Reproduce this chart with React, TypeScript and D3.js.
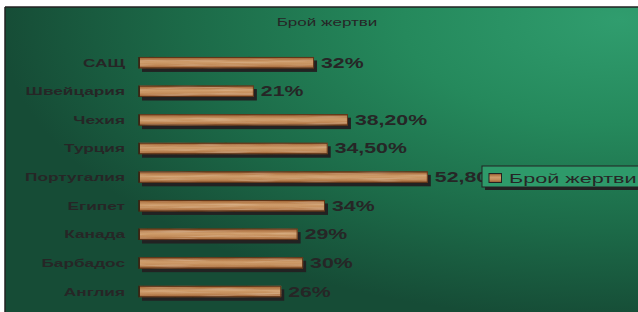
import React from "react";
import * as d3 from "d3";

const categories = ["САЩ", "Швейцария", "Чехия", "Турция", "Португалия", "Египет", "Канада", "Барбадос", "Англия"];
const values = [32, 21, 38.2, 34.5, 52.8, 34, 29, 30, 26];
const valueLabels = ["32%", "21%", "38,20%", "34,50%", "52,80%", "34%", "29%", "30%", "26%"];
const seriesName = "Брой жертви";
const title = "Брой жертви";

const W = 638;
const H = 312;

export default function App() {
  const x = d3.scaleLinear().domain([0, 60]).range([139, 139 + 60 * 5.47]);
  const y = d3.scaleBand<string>().domain(categories).range([39.8, 314.4]).paddingInner(0.6).paddingOuter(0.6);
  const bh = y.bandwidth();
  const textColor = "#262626";
  const sText = (tx: number, ty: number, anchor: string, content: string, size: number, weight: string, sx: number) => (
    <text
      transform={`translate(${tx},${ty}) scale(${sx},1)`}
      textAnchor={anchor}
      fontFamily="'Liberation Sans', Arial, sans-serif"
      fontSize={size}
      fontWeight={weight}
      fill={textColor}
    >
      {content}
    </text>
  );
  return (
    <svg width={W} height={H} style={{ position: "absolute", left: 0, top: 0 }}>
      <defs>
        <radialGradient id="bg" gradientUnits="userSpaceOnUse" cx={0} cy={0} r={1}
          gradientTransform="translate(620,20) scale(620,300)">
          <stop offset="0" stopColor="#309d6e" />
          <stop offset="0.35" stopColor="#25895c" />
          <stop offset="0.7" stopColor="#1c6a48" />
          <stop offset="1" stopColor="#164c36" />
        </radialGradient>
        <linearGradient id="wood" x1="0" y1="0" x2="0" y2="1">
          <stop offset="0" stopColor="#70401f" />
          <stop offset="0.14" stopColor="#ad7242" />
          <stop offset="0.42" stopColor="#cf9d6b" />
          <stop offset="0.7" stopColor="#c28b59" />
          <stop offset="0.88" stopColor="#a86e40" />
          <stop offset="1" stopColor="#663a1c" />
        </linearGradient>
        <filter id="grain" x="0" y="0" width="1" height="1">
          <feTurbulence type="fractalNoise" baseFrequency="0.02 0.45" numOctaves={2} seed={5} result="noise" />
          <feColorMatrix in="noise" type="matrix"
            values="0 0 0 0 0.88  0 0 0 0 0.68  0 0 0 0 0.46  0 0 0 0.8 -0.38" result="light" />
          <feComposite in="light" in2="SourceGraphic" operator="in" result="lightIn" />
          <feMerge>
            <feMergeNode in="SourceGraphic" />
            <feMergeNode in="lightIn" />
          </feMerge>
        </filter>
      </defs>
      <rect x={0} y={0} width={W} height={H} fill="#ffffff" />
      <rect x={5} y={7} width={W} height={H} fill="url(#bg)" />
      <line x1={5} y1={7} x2={W} y2={7} stroke="#222" strokeWidth={1.5} />
      <line x1={5} y1={7} x2={5} y2={H} stroke="#222" strokeWidth={1.5} />
      {sText(327, 26, "middle", title, 11, "normal", 1.55)}
      {categories.map((c, i) => {
        const yy = y(c)!;
        const x0 = x(0);
        const x1 = x(values[i]);
        return (
          <g key={c}>
            <rect x={x0 + 3} y={yy + 3.5} width={x1 - x0} height={bh} fill="#222222" />
            <rect x={x0} y={yy} width={x1 - x0} height={bh} fill="url(#wood)" filter="url(#grain)" />
            <rect x={x0 + 0.5} y={yy + 0.5} width={x1 - x0 - 1} height={bh - 1} fill="none" stroke="#5e3519" strokeWidth={1} />
            <line x1={x0} y1={yy} x2={x0} y2={yy + bh} stroke="#3a2010" strokeWidth={1.5} />
            {sText(125, yy + bh / 2 + 4, "end", c, 11.5, "bold", 1.5)}
            {sText(x1 + 7, yy + bh / 2 + 5, "start", valueLabels[i], 14, "bold", 1.52)}
          </g>
        );
      })}
      <g>
        <rect x={485} y={169} width={160} height={21} fill="#222" />
        <rect x={482} y={166} width={160} height={21} fill="#2e9a6a" stroke="#222" strokeWidth={1} />
        <rect x={489} y={173.5} width={12.5} height={9} fill="url(#wood)" stroke="#222" strokeWidth={1} />
        {sText(509, 182.5, "start", seriesName, 13.5, "normal", 1.6)}
      </g>
    </svg>
  );
}
